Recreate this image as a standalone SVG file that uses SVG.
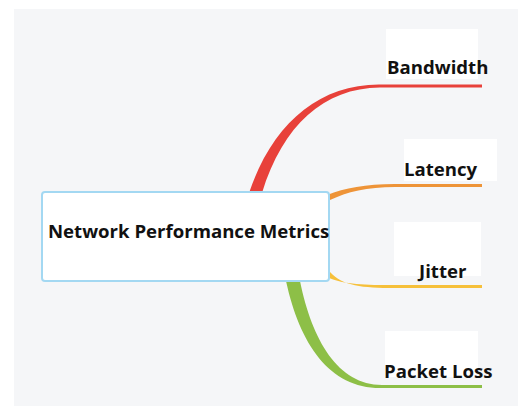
<svg xmlns="http://www.w3.org/2000/svg" width="518" height="407" viewBox="0 0 518 407">
<style>
.lbl{font-family:"Open Sans","Liberation Sans",sans-serif;font-weight:700;font-size:18.6px;fill:#111}
.box{fill:#ffffff}
</style>
<rect x="0" y="0" width="518" height="407" fill="#ffffff"/>
<rect x="14" y="9" width="504" height="397" fill="#f5f6f8"/>
<g id="connectors">
<path d="M249 193 C272 125 318 84 380 84.5 L482 84.5 L482 87.5 L380 87.5 C324 88 283 125 262 193 Z" fill="#e8413a"/>
<path d="M327 195 C345 188 365 184 395 184 L482 184 L482 187 L395 187 C367 187 347 192 330 200 Z" fill="#ee9438"/>
<path d="M327 277 C345 285 365 285 395 285 L482 285 L482 288 L395 288 C362 288 343 286 330 272 Z" fill="#f6c03a"/>
<path d="M286 281 C300 345 330 389 382 388 L482 388 L482 385 L382 385 C338 385 312 340 300 281 Z" fill="#8dbf47"/>
</g>
<g id="center">
<rect x="42" y="192" width="287" height="89" rx="3" fill="#ffffff" stroke="#a3d8f2" stroke-width="2"/>
<text class="lbl" x="48" y="238">Network Performance Metrics</text>
</g>
<g id="bandwidth">
<rect class="box" x="386" y="29" width="92" height="50"/>
<text class="lbl" x="387" y="74">Bandwidth</text>
</g>
<g id="latency">
<rect class="box" x="404" y="139" width="93" height="42"/>
<text class="lbl" x="404" y="176">Latency</text>
</g>
<g id="jitter">
<rect class="box" x="394" y="222" width="87" height="54"/>
<text class="lbl" x="419" y="278">Jitter</text>
</g>
<g id="packetloss">
<rect class="box" x="385" y="331" width="93" height="46"/>
<text class="lbl" x="384" y="378">Packet Loss</text>
</g>
</svg>
